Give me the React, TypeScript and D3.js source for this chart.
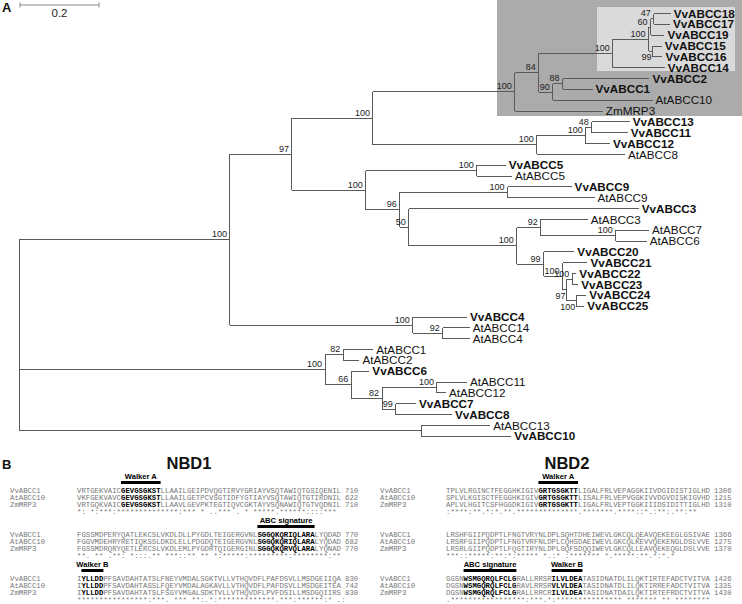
import React from 'react';
import * as d3 from 'd3';

// ---------- Tree data (A) ----------
// internal nodes: [id, parent, branch length (subst./site), bootstrap]
const internalNodes: [string, string | null, number, number | null][] = [
  ['root', null, 0, null],
  ['A', 'root', 0.534, 100],
  ['B', 'A', 0.157, 97],
  ['C', 'B', 0.205, 100],
  ['D', 'C', 0.359, 100],
  ['E', 'D', 0.061, 84],
  ['F', 'E', 0.187, 100],
  ['I', 'F', 0.091, 100],
  ['J', 'I', 0.005, 60],
  ['L', 'J', 0.008, 47],
  ['K', 'I', 0.010, 99],
  ['G', 'E', 0.035, 90],
  ['H', 'G', 0.025, 88],
  ['M', 'C', 0.415, 100],
  ['N', 'M', 0.124, 100],
  ['O', 'N', 0.015, 48],
  ['P', 'B', 0.187, 100],
  ['Q', 'P', 0.281, 100],
  ['R', 'P', 0.086, 96],
  ['S', 'R', 0.273, 100],
  ['T', 'R', 0.023, 50],
  ['U', 'T', 0.273, 100],
  ['V', 'U', 0.061, 92],
  ['X', 'V', 0.190, 100],
  ['W', 'U', 0.068, 99],
  ['Y', 'W', 0.048, 100],
  ['Z', 'Y', 0.010, 97],
  ['AA', 'Z', 0.015, 100],
  ['AB', 'Z', 0.025, 100],
  ['AC', 'A', 0.463, 100],
  ['AD', 'AC', 0.076, 92],
  ['AE', 'root', 0.775, 100],
  ['AF', 'AE', 0.046, 82],
  ['AG', 'AE', 0.066, 66],
  ['AH', 'AG', 0.078, 82],
  ['AI', 'AH', 0.139, 100],
  ['AJ', 'AH', 0.035, 99],
  ['AK', 'root', 1.018, null],
];

// leaves in display order: [name, parent, branch length]
const leaves: [string, string, number][] = [
  ['VvABCC18', 'L', 0.043],
  ['VvABCC17', 'L', 0.041],
  ['VvABCC19', 'J', 0.035],
  ['VvABCC15', 'K', 0.023],
  ['VvABCC16', 'K', 0.025],
  ['VvABCC14', 'F', 0.132],
  ['VvABCC2', 'H', 0.220],
  ['VvABCC1', 'H', 0.076],
  ['AtABCC10', 'G', 0.253],
  ['ZmMRP3', 'D', 0.223],
  ['VvABCC13', 'O', 0.096],
  ['VvABCC11', 'O', 0.091],
  ['VvABCC12', 'N', 0.061],
  ['AtABCC8', 'M', 0.223],
  ['VvABCC5', 'Q', 0.073],
  ['AtABCC5', 'Q', 0.089],
  ['VvABCC9', 'S', 0.162],
  ['AtABCC9', 'S', 0.220],
  ['VvABCC3', 'T', 0.582],
  ['AtABCC3', 'V', 0.119],
  ['AtABCC7', 'X', 0.084],
  ['AtABCC6', 'X', 0.078],
  ['VvABCC20', 'W', 0.078],
  ['VvABCC21', 'Y', 0.063],
  ['VvABCC22', 'AA', 0.010],
  ['VvABCC23', 'AA', 0.015],
  ['VvABCC24', 'AB', 0.025],
  ['VvABCC25', 'AB', 0.020],
  ['VvABCC4', 'AC', 0.137],
  ['AtABCC14', 'AD', 0.068],
  ['AtABCC4', 'AD', 0.068],
  ['AtABCC1', 'AF', 0.076],
  ['AtABCC2', 'AF', 0.041],
  ['VvABCC6', 'AG', 0.046],
  ['AtABCC11', 'AI', 0.076],
  ['AtABCC12', 'AI', 0.023],
  ['VvABCC7', 'AJ', 0.051],
  ['VvABCC8', 'AJ', 0.142],
  ['AtABCC13', 'AK', 0.175],
  ['VvABCC10', 'AK', 0.228],
];

const scaleBarValue = 0.2;
const supportBelow = ['K', 'Z', 'AB'];

// ---------- Alignment data (B) ----------
const seqNames = ['VvABCC1', 'AtABCC10', 'ZmMRP3'];

const nbd1Seqs = [
  ['VRTGEKVAICGEVGSGKSTLLAAILGEIPDVQGTIRVYGRIAYVSQTAWIQTGSIQENIL',
   'VKFGEKVAVCGEVGSGKSTLLAAILGETPCVSGTIDFYGTIAYVSQTAWIQTGTIRDNIL',
   'VRTGQKVAICGEVGSGKSTLLAAVLGEVPKTEGTIQVCGKTAYVSQNAWIQTGTVQDNIL'],
  ['FGSSMDPERYQATLEKCSLVKDLDLLPYGDLTEIGERGVNLSGGQKQRIQLARALYQDAD',
   'FGGVMDEHRYRETIQKSSLDKDLELLPDGDQTEIGERGVNLSGGQKQRIQLARALYQDAD',
   'FGSSMDRQRYQETLERCSLVKDLEMLPYGDRTQIGERGINLSGGQKQRVQLARALYQNAD'],
  ['IYLLDDPFSAVDAHTATSLFNEYVMDALSGKTVLLVTHQVDFLPAFDSVLLMSDGEIIQA',
   'IYLLDDPFSAVDAHTASSLFQEYVMDALAGKAVLLVTHQVDFLPAFDSVLLMSDGEITEA',
   'IYLLDDPFSAVDAHTATSLFSGYVMGALSDKTVLLVTHQVDFLPVFDSILLMSDGQIIRS'],
];
const nbd1Ends = [[710, 622, 710], [770, 682, 770], [830, 742, 830]];
const nbd1Cons = [
  '*: *:***:**************:*** * ..*** . *  *****.******::::***',
  '**. ** .**: *:::.** ***::** ** *:*****:*********:********:**',
  '****************:***. *** **:.*:*************.***:******:* .:',
];
const nbd1Motifs: [string, number, number][][] = [
  [['Walker A', 10, 19]],
  [['ABC signature', 41, 54]],
  [['Walker B', 1, 6]],
];

const nbd2Seqs = [
  ['TPLVLRGINCTFEGGHKIGIVGRTGSGKTTLIGALFRLVEPAGGKIIVDGIDISTIGLHD',
   'SPLVLKGISCTFEGGHKIGIVGRTGSGKTTLISALFRLVEPVGGKIVVDGVDISKIGVHD',
   'APLVLHGITCSFHGGDKIGIVGRTGSGKTTLIGALFRLVEPTGGKIIIDSIDITTIGLHD'],
  ['LRSHFGIIPQDPTLFNGTVRYNLDPLSQHTDHEIWEVLGKCQLQEAVQEKEEGLGSIVAE',
   'LRSRFGIIPQDPTLFNGTVRFNLDPLCQHSDAEIWEVLGKCQLKEVVQEKENGLDSLVVE',
   'LRSRLGIIPQDPTLFQGTIRYNLDPLGQFSDQQIWEVLGKCQLLEAVQEKEQGLDSLVVE'],
  ['GGSNWSMGQRQLFCLGRALLRRSRILVLDEATASIDNATDLILQKTIRTEFADCTVITVA',
   'DGSNWSMGQRQLFCLGRAVLRRSRVLVLDEATASIDNATDLILQKTIRREFADCTVITVA',
   'DGSNWSMGQRQLFCLGRALLRRCRILVLDEATASIDNATDAILQKTIRTEFRDCTVITVA'],
];
const nbd2Ends = [[1306, 1215, 1310], [1366, 1275, 1370], [1426, 1335, 1430]];
const nbd2Cons = [
  ':****:**.*:*.**.**************.*******.****::*.:**:.**:**',
  '***::*****:**:*:***** *.:* :******* *.*****:**.*:*.*',
  '.*****************:***.*:*************** ******* ** ********',
];
const nbd2Motifs: [string, number, number][][] = [
  [['Walker A', 21, 30]],
  [],
  [['ABC signature', 4, 16], ['Walker B', 24, 31]],
];

// ---------- Layout ----------
const W = 742;
const H = 604;
const SANS = 'Arial, "Liberation Sans", Helvetica, sans-serif';
const MONO = '"Liberation Mono", "Courier New", Courier, monospace';

function buildTree() {
  const rows: { id: string; parent: string | null; len: number; support: number | null; leaf: boolean; order: number }[] = [];
  internalNodes.forEach(([id, parent, len, support]) => rows.push({ id, parent, len, support, leaf: false, order: -1 }));
  leaves.forEach(([id, parent, len], i) => rows.push({ id, parent, len, support: null, leaf: true, order: i }));
  const root = d3.stratify<any>().id((d) => d.id).parentId((d) => d.parent)(rows);
  const xScale = d3.scaleLinear().domain([0, 1]).range([19, 414]);
  const yScale = d3.scaleLinear().domain([0, leaves.length - 1]).range([13.5, 13.5 + (leaves.length - 1) * 10.84]);
  root.eachBefore((n: any) => {
    n.dist = n.parent ? n.parent.dist + n.data.len : 0;
    n.px = xScale(n.dist);
  });
  root.eachAfter((n: any) => {
    if (n.children) {
      const ys = n.children.map((c: any) => c.py);
      n.y0 = d3.min(ys);
      n.y1 = d3.max(ys);
      n.py = (n.y0 + n.y1) / 2;
    } else {
      n.py = yScale(n.data.order);
    }
  });
  return { root, xScale };
}

function Tree() {
  const { root, xScale } = buildTree();
  const nodes: any[] = root.descendants();
  const stroke = '#5a5a5a';
  const barLen = xScale(scaleBarValue) - xScale(0);
  return (
    <g>
      <rect x={497} y={0} width={W - 497} height={116} fill="#ababab" />
      <rect x={597} y={7} width={138} height={64} fill="#dadada" />
      {/* scale bar */}
      <g stroke="#888" strokeWidth={1}>
        <line x1={20} x2={20 + barLen} y1={5} y2={5} />
        <line x1={20} x2={20} y1={2.5} y2={7.5} />
        <line x1={20 + barLen} x2={20 + barLen} y1={2.5} y2={7.5} />
      </g>
      <text x={20 + barLen / 2} y={17} textAnchor="middle" fontSize={11.5} fontFamily={SANS} fill="#222">
        {String(scaleBarValue)}
      </text>
      <text x={2} y={12} fontSize={13} fontWeight="bold" fontFamily={SANS} fill="#111">A</text>
      {/* branches */}
      <g stroke={stroke} strokeWidth={1} fill="none" shapeRendering="crispEdges">
        {nodes.filter((n) => n.parent).map((n) => (
          <line key={'h' + n.id} x1={n.parent.px} x2={n.px} y1={n.py} y2={n.py} />
        ))}
        {nodes.filter((n) => n.children).map((n) => (
          <line key={'v' + n.id} x1={n.px} x2={n.px} y1={n.y0} y2={n.y1} />
        ))}
      </g>
      {/* bootstrap values */}
      <g fontSize={9} fontFamily={SANS} fill="#222">
        {nodes.filter((n) => n.children && n.data.support != null).map((n) => {
          const below = supportBelow.includes(n.id);
          return (
            <text key={'s' + n.id} x={below ? n.px - 1 : n.px - 3} y={below ? n.py + 9 : n.py - 2.5} textAnchor="end">
              {n.data.support}
            </text>
          );
        })}
      </g>
      {/* leaf labels */}
      <g fontSize={11.7} fontFamily={SANS} fill="#111">
        {nodes.filter((n) => !n.children).map((n) => (
          <text key={'l' + n.id} x={n.px + 3} y={n.py} dy="0.35em" fontWeight={n.id.startsWith('Vv') ? 'bold' : 'normal'}>
            {n.id}
          </text>
        ))}
      </g>
    </g>
  );
}

function segments(s: string, motifs: [string, number, number][]) {
  const isBold = (i: number) => motifs.some(([, a, b]) => i >= a && i < b);
  const segs: { start: number; text: string; bold: boolean }[] = [];
  for (let i = 0; i < s.length; i++) {
    const b = isBold(i);
    const last = segs[segs.length - 1];
    if (last && last.bold === b) last.text += s[i];
    else segs.push({ start: i, text: s[i], bold: b });
  }
  return segs;
}

function AlignPanel(props: {
  nameX: number; seqX: number; numX: number; tops: number[];
  seqs: string[][]; ends: number[][]; cons: string[]; motifs: [string, number, number][][];
}) {
  const { nameX, seqX, numX, tops, seqs, ends, cons, motifs } = props;
  const col = d3.scaleLinear().domain([0, 60]).range([seqX, seqX + 60 * 4.4]);
  const rowDy = [13.5, 20.5, 27.5];
  const consDy = 34.5;
  const gray = '#777';
  return (
    <g>
      {seqs.map((block, bi) => {
        const top = tops[bi];
        return (
          <g key={bi}>
            {motifs[bi].map(([label, a, b]) => (
              <g key={label}>
                <text x={(col(a) + col(b)) / 2} y={top} textAnchor="middle" fontSize={7.6} fontWeight="bold" fontFamily={SANS} fill="#000">
                  {label}
                </text>
                <rect x={col(a)} y={top + 2} width={col(b) - col(a)} height={3} fill="#000" />
              </g>
            ))}
            {block.map((s, ri) => (
              <g key={ri} fontFamily={MONO} fontSize={7.3}>
                <text x={nameX} y={top + rowDy[ri]} fill={gray}>{seqNames[ri]}</text>
                <text y={top + rowDy[ri]}>
                  {segments(s, motifs[bi]).map((sg, k) => (
                    <tspan key={k}
                      x={Array.from(sg.text).map((_, j) => col(sg.start + j).toFixed(2)).join(' ')}
                      fill={sg.bold ? '#000' : gray}
                      fontWeight={sg.bold ? 'bold' : 'normal'}>
                      {sg.text}
                    </tspan>
                  ))}
                </text>
                <text x={numX} y={top + rowDy[ri]} fill={gray}>{ends[bi][ri]}</text>
              </g>
            ))}
            <text y={top + consDy} fontFamily={MONO} fontSize={7.3} fill={gray}
              x={Array.from(cons[bi]).map((_, j) => col(j).toFixed(2)).join(' ')}>
              {cons[bi]}
            </text>
          </g>
        );
      })}
    </g>
  );
}

export default function App() {
  const tops = [479, 523, 567];
  return (
    <svg width={W} height={H} viewBox={`0 0 ${W} ${H}`}
      style={{ position: 'absolute', left: 0, top: 0, background: '#fff' }}>
      <rect width={W} height={H} fill="#fff" />
      <Tree />
      <text x={2} y={469} fontSize={13} fontWeight="bold" fontFamily={SANS} fill="#111">B</text>
      <text x={189} y={469} textAnchor="middle" fontSize={16.5} fontWeight="bold" fontFamily={SANS} fill="#111">NBD1</text>
      <text x={567} y={469} textAnchor="middle" fontSize={16.5} fontWeight="bold" fontFamily={SANS} fill="#111">NBD2</text>
      <AlignPanel nameX={10} seqX={77} numX={345} tops={tops}
        seqs={nbd1Seqs} ends={nbd1Ends} cons={nbd1Cons} motifs={nbd1Motifs} />
      <AlignPanel nameX={380} seqX={446} numX={714} tops={tops}
        seqs={nbd2Seqs} ends={nbd2Ends} cons={nbd2Cons} motifs={nbd2Motifs} />
    </svg>
  );
}
